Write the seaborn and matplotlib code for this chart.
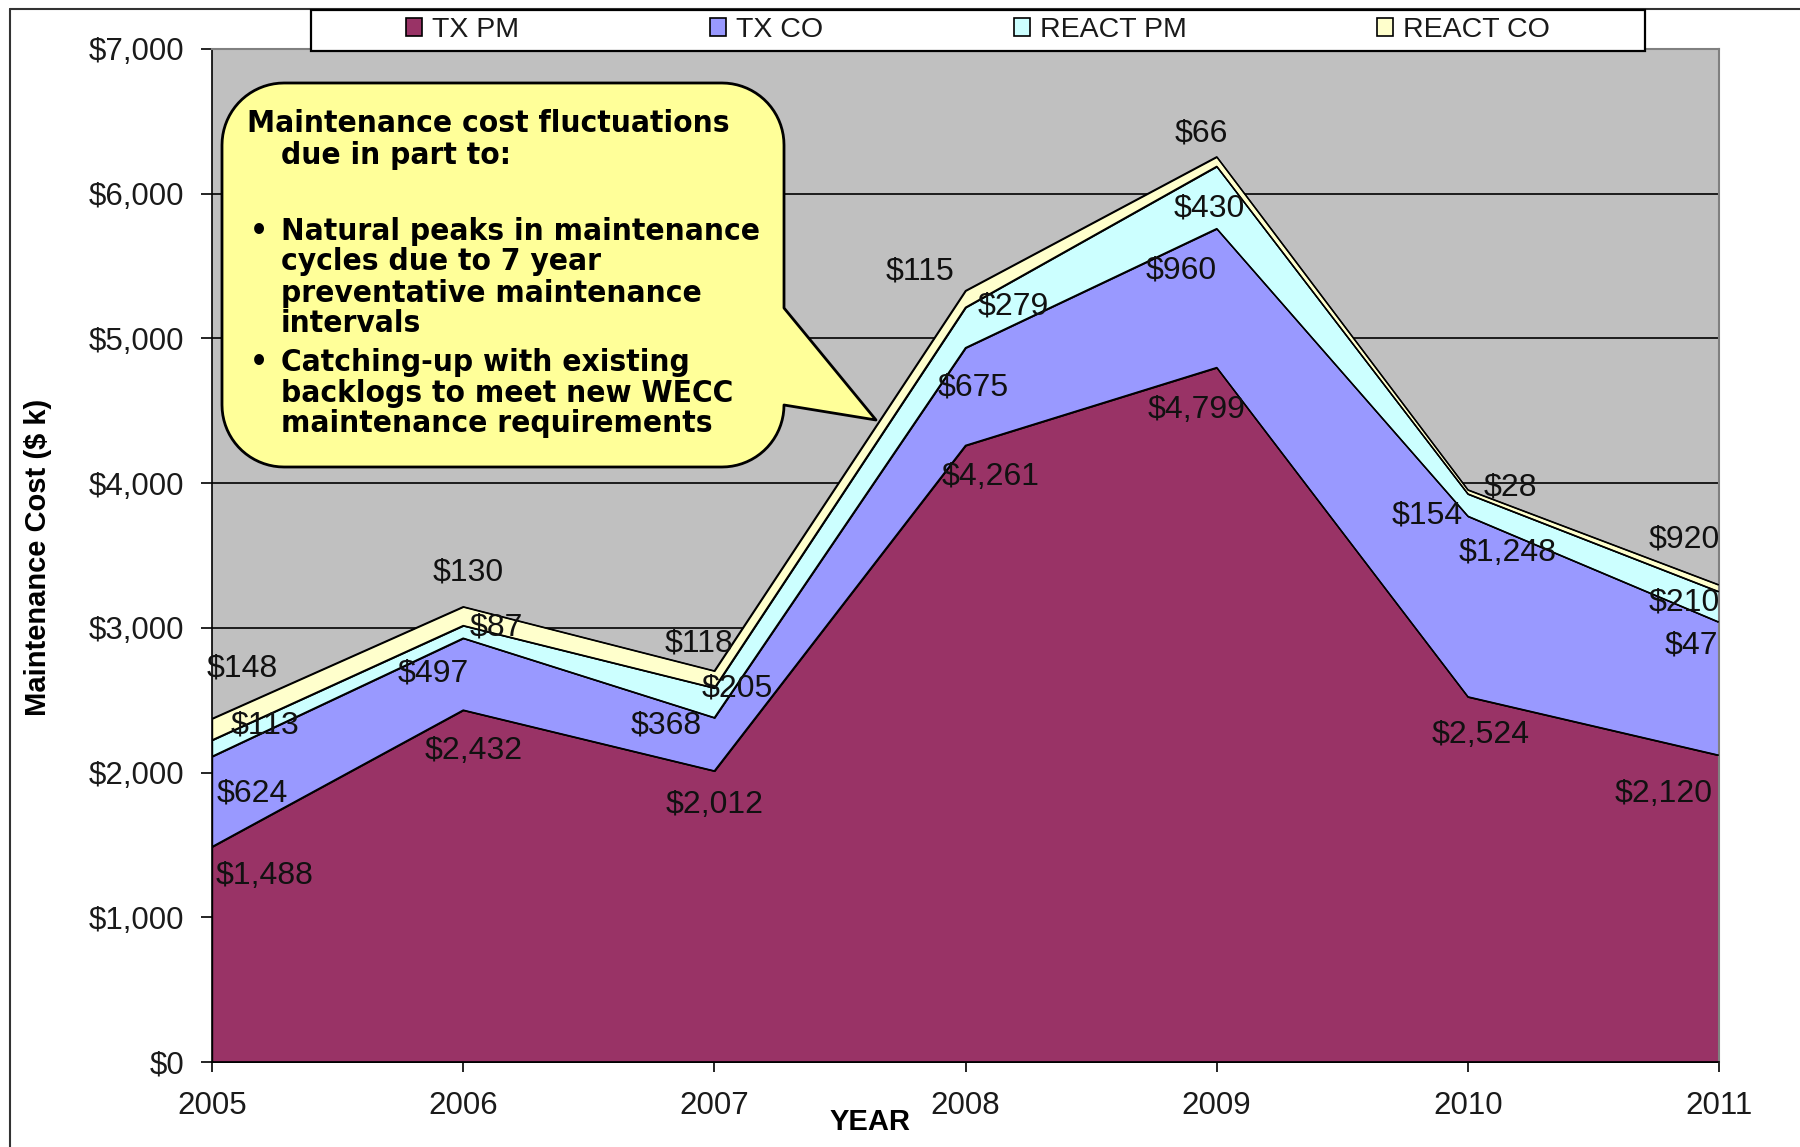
import numpy as np
import pandas as pd
import matplotlib
matplotlib.use('Agg')
import matplotlib.pyplot as plt
import seaborn as sns
from matplotlib.patches import Patch, Rectangle, Polygon
from matplotlib.lines import Line2D

# --- data ($ k) ---
years = [2005, 2006, 2007, 2008, 2009, 2010, 2011]
series = ['TX PM', 'TX CO', 'REACT PM', 'REACT CO']
tx_pm = [1488, 2432, 2012, 4261, 4799, 2524, 2120]
tx_co = [624, 497, 368, 675, 960, 1248, 920]
react_pm = [113, 87, 205, 279, 430, 154, 210]
react_co = [148, 130, 118, 115, 66, 28, 47]

# data labels exactly as printed on the chart (2011 TX CO / REACT CO are swapped there)
tx_pm_labels = ['$1,488', '$2,432', '$2,012', '$4,261', '$4,799', '$2,524', '$2,120']
tx_co_labels = ['$624', '$497', '$368', '$675', '$960', '$1,248', '$47']
react_pm_labels = ['$113', '$87', '$205', '$279', '$430', '$154', '$210']
react_co_labels = ['$148', '$130', '$118', '$115', '$66', '$28', '$920']

yticks = [0, 1000, 2000, 3000, 4000, 5000, 6000, 7000]
ytick_labels = ['$0', '$1,000', '$2,000', '$3,000', '$4,000', '$5,000', '$6,000', '$7,000']

callout_lines = [
    'Maintenance cost fluctuations',
    'due in part to:',
    'Natural peaks in maintenance',
    'cycles due to 7 year',
    'preventative maintenance',
    'intervals',
    'Catching-up with existing',
    'backlogs to meet new WECC',
    'maintenance requirements',
]

# --- styling / layout ---
colors = ['#993366', '#9999FF', '#CCFFFF', '#FFFFCC']
# label offsets from the top of each band (years, $k)
lbl_dx = [[.21, .04, .00, .10, -.08, .05, -.22],
          [.16, -.12, -.19, .03, -.14, .16, -.11],
          [.21, .13, .09, .19, -.03, -.16, -.14],
          [.12, .02, -.06, -.18, -.06, .17, -.14]]
lbl_dy = [[-202, -281, -234, -221, -291, -262, -271],
          [-255, -246, -55, -277, -291, -256, -159],
          [100, -16, -6, 7, -292, -148, -75],
          [349, 235, 186, 130, 158, 14, 314]]

W, H = 1800, 1147
def fx(px):
    return px / W
def fy(py):
    return 1 - py / H

sns.set_theme(style='white')
plt.rcParams['font.family'] = ['Liberation Sans', 'DejaVu Sans']

fig = plt.figure(figsize=(18, 11.47), dpi=100)
ax = fig.add_axes([fx(212), fy(1062), (1719 - 212) / W, (1062 - 49) / H])
ax.set_facecolor('#C0C0C0')

values = [tx_pm, tx_co, react_pm, react_co]
labels = [tx_pm_labels, tx_co_labels, react_pm_labels, react_co_labels]
cum = np.cumsum(np.array(values), axis=0)

for i in range(len(series)):
    lower = cum[i - 1] if i > 0 else np.zeros(len(years))
    ax.fill_between(years, lower, cum[i], facecolor=colors[i],
                    edgecolor='black', lw=1.0, zorder=2)

# band top edges through seaborn
long = pd.DataFrame({
    'Year': years * len(series),
    'Top': cum.flatten(),
    'Series': np.repeat(series, len(years)),
})
sns.lineplot(data=long, x='Year', y='Top', units='Series', estimator=None,
             color='black', lw=1.0, ax=ax, zorder=3, legend=False)

for i in range(len(series)):
    for j, yr in enumerate(years):
        ax.text(yr + lbl_dx[i][j], cum[i][j] + lbl_dy[i][j], labels[i][j],
                ha='center', va='center', fontsize=23, color='#111111', zorder=4)

ax.set_xlim(2005, 2011)
ax.set_ylim(0, 7000)
ax.set_xticks(years)
ax.set_xticklabels([str(y) for y in years])
ax.set_yticks(yticks)
ax.set_yticklabels(ytick_labels)
ax.set_xlabel('')
ax.set_ylabel('')
ax.yaxis.grid(True, color='black', lw=1.2)
ax.xaxis.grid(False)
ax.set_axisbelow(True)
ax.tick_params(axis='y', direction='out', length=8, width=1.2, color='black',
               pad=12, labelsize=22.5, labelcolor='#1a1a1a', left=True)
ax.tick_params(axis='x', direction='out', length=7, width=1.2, color='black',
               pad=14, labelsize=22.5, labelcolor='#1a1a1a', bottom=True)
for s in ['top', 'right']:
    ax.spines[s].set_color('#808080')
    ax.spines[s].set_linewidth(1.5)
for s in ['left', 'bottom']:
    ax.spines[s].set_color('black')
    ax.spines[s].set_linewidth(1.2)

# axis titles
fig.text(fx(38), fy(557), 'Maintenance Cost ($ k)', rotation=90, ha='center',
         va='center', fontsize=21, fontweight='bold', color='black')
fig.text(fx(870), fy(1122), 'YEAR', ha='center', va='center', fontsize=21,
         fontweight='bold', color='black')

# outer chart frame (only left and top visible)
fig.add_artist(Line2D([fx(10), fx(10)], [fy(9), 0], transform=fig.transFigure,
                      color='#333333', lw=1.5))
fig.add_artist(Line2D([fx(10), 1], [fy(9), fy(9)], transform=fig.transFigure,
                      color='#333333', lw=1.5))

# legend box
fig.add_artist(Rectangle((fx(311), fy(51)), (1645 - 311) / W, (51 - 10) / H,
                         transform=fig.transFigure, facecolor='white',
                         edgecolor='black', lw=1.6, zorder=5))
handles = [Patch(facecolor=c, edgecolor='black', lw=1.2) for c in colors]
leg = fig.legend(handles, series, loc='center', bbox_to_anchor=(fx(978), fy(30)),
                 ncol=4, frameon=False, fontsize=20.5, handlelength=0.56,
                 handleheight=0.56, handletextpad=0.35, columnspacing=6.7)
leg.set_zorder(6)
for t in leg.get_texts():
    t.set_color('#1a1a1a')

# callout bubble
x0, y0, x1, y1, r = 222, 83, 784, 467, 62
base_top, base_bot, tip = 308, 405, (876, 420)
def arc(cx, cy, a0, a1):
    t = np.radians(np.linspace(a0, a1, 20))
    return list(zip(cx + r * np.cos(t), cy + r * np.sin(t)))
pts = []
pts += arc(x1 - r, y0 + r, -90, 0)
pts += [(x1, base_top), tip, (x1, base_bot)]
pts += arc(x1 - r, y1 - r, 0, 90)
pts += arc(x0 + r, y1 - r, 90, 180)
pts += arc(x0 + r, y0 + r, 180, 270)
verts = [(fx(px), fy(py)) for px, py in pts]
fig.add_artist(Polygon(verts, closed=True, transform=fig.transFigure,
                       facecolor='#FFFF99', edgecolor='black', lw=2.0,
                       joinstyle='round', zorder=7))

call_font = dict(family=['DejaVu Sans'], fontweight='bold', fontstretch='condensed',
                 color='black', zorder=8)
line_x = [247, 281, 281, 281, 281, 281, 281, 281, 281]
line_y = [124, 155, 231, 262, 293, 324, 362, 393, 424]
texts = []
for lx, ly, s in zip(line_x, line_y, callout_lines):
    texts.append(fig.text(fx(lx), fy(ly), s, ha='left', va='center',
                          fontsize=21, **call_font))
for by in [231, 362]:
    texts.append(fig.text(fx(250), fy(by), '\u2022', ha='left', va='center',
                          fontsize=21, **call_font))

# fit the callout text width to the box (first line spans ~482 px)
fig.canvas.draw()
w = texts[0].get_window_extent().width
scale = 482 / w
for t in texts:
    t.set_fontsize(21 * min(scale, 1.1))

fig.savefig('out.png', dpi=100, facecolor='white')
